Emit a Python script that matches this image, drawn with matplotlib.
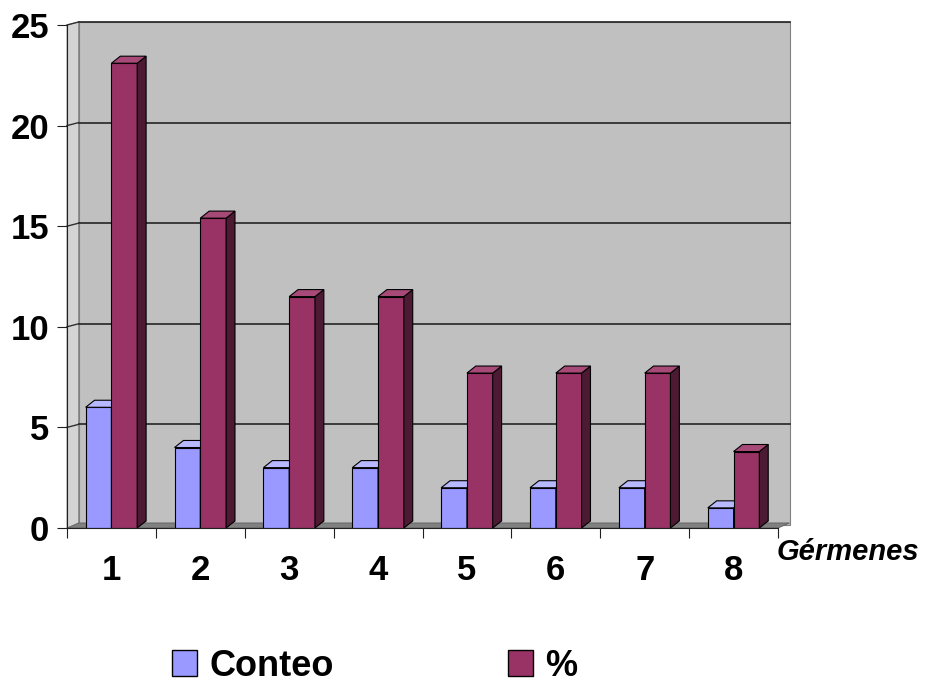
import matplotlib.pyplot as plt
from matplotlib.patches import Polygon, Patch

# data
categories = [1, 2, 3, 4, 5, 6, 7, 8]
conteo = [6, 4, 3, 3, 2, 2, 2, 1]
porcentaje = [23.1, 15.4, 11.5, 11.5, 7.7, 7.7, 7.7, 3.8]
y_ticks = [0, 5, 10, 15, 20, 25]

c_front = '#9999ff'
c_side = '#6f6fc4'
c_top = '#b8b8ff'
p_front = '#993366'
p_side = '#4d1a33'
p_top = '#a84a78'

plt.rcParams['font.family'] = ['Liberation Sans', 'DejaVu Sans']

fig = plt.figure(figsize=(9.26, 6.82), dpi=100)
ax = fig.add_axes([67 / 926, (682 - 528) / 682, 711 / 926, 503 / 682])
ax.set_xlim(0.5, 8.5)
ax.set_ylim(0, 25)
ax.set_facecolor('none')

# walls (fake 3d)
wdx, wdy = 0.13, 0.15
wall = Polygon([(0.5 + wdx, wdy), (8.5 + wdx, wdy), (8.5 + wdx, 25 + wdy), (0.5 + wdx, 25 + wdy)],
               closed=True, facecolor='#c0c0c0', edgecolor='#808080', lw=0.8, clip_on=False, zorder=0)
ax.add_patch(wall)
side = Polygon([(0.5, 0), (0.5 + wdx, wdy), (0.5 + wdx, 25 + wdy), (0.5, 25)],
               closed=True, facecolor='#d4d4d4', edgecolor='#808080', lw=0.6, clip_on=False, zorder=0)
ax.add_patch(side)
floor = Polygon([(0.5, 0), (8.5, 0), (8.5 + wdx, wdy + 0.1), (0.5 + wdx, wdy + 0.1)],
                closed=True, facecolor='#808080', edgecolor='#606060', lw=0.6, clip_on=False, zorder=1)
ax.add_patch(floor)
for t in y_ticks[1:]:
    ax.plot([0.5 + wdx, 8.5 + wdx], [t + wdy, t + wdy], color='#303030', lw=1.3, zorder=1, clip_on=False)
    ax.plot([0.5, 0.5 + wdx], [t, t + wdy], color='#303030', lw=1.0, zorder=1, clip_on=False)

# bars
bw = 0.29
bdx, bdy = 0.1, 0.35


def bar3d(xs, vals, front, sidec, topc):
    bars = ax.bar(xs, vals, bw, align='edge', color=front, edgecolor='black', lw=0.8, zorder=3)
    for b in bars:
        x0 = b.get_x()
        x1 = x0 + b.get_width()
        h = b.get_height()
        ax.add_patch(Polygon([(x1, 0), (x1 + bdx, bdy), (x1 + bdx, h + bdy), (x1, h)],
                             closed=True, facecolor=sidec, edgecolor='black', lw=0.8, zorder=3))
        ax.add_patch(Polygon([(x0, h), (x0 + bdx, h + bdy), (x1 + bdx, h + bdy), (x1, h)],
                             closed=True, facecolor=topc, edgecolor='black', lw=0.8, zorder=3))


bar3d([c - bw for c in categories], conteo, c_front, c_side, c_top)
bar3d([c for c in categories], porcentaje, p_front, p_side, p_top)

ax.spines['top'].set_visible(False)
ax.spines['right'].set_visible(False)
ax.spines['left'].set_color('#202020')
ax.spines['bottom'].set_color('#202020')
ax.spines['left'].set_zorder(4)
ax.spines['bottom'].set_zorder(4)

ax.set_yticks(y_ticks)
ax.set_yticklabels([str(t) for t in y_ticks], fontsize=25, fontweight='bold')
ax.set_xticks([c + 0.5 for c in [0] + categories])
ax.set_xticklabels([])
ax.set_xticks(categories, minor=True)
ax.set_xticklabels([str(c) for c in categories], minor=True, fontsize=25, fontweight='bold')
ax.tick_params(axis='x', which='minor', length=0, pad=19)
ax.tick_params(axis='x', which='major', length=7, direction='out', color='#202020')
ax.tick_params(axis='y', length=7, pad=6, color='#202020')

fig.text(777 / 926, 1 - 552 / 682, 'Gérmenes', fontsize=21, fontweight='bold', fontstyle='italic',
         ha='left', va='center')

handles = [Patch(facecolor=c_front, edgecolor='black', label='Conteo'),
           Patch(facecolor=p_front, edgecolor='black', label='%')]
fig.legend(handles=handles, loc='center left', bbox_to_anchor=(172 / 926, 1 - 666 / 682), ncol=2,
           frameon=False, prop={'size': 26, 'weight': 'bold'}, handlelength=0.7, handleheight=0.7,
           handletextpad=0.35, columnspacing=4.8, borderpad=0, borderaxespad=0)

fig.savefig('out.png', dpi=100)
